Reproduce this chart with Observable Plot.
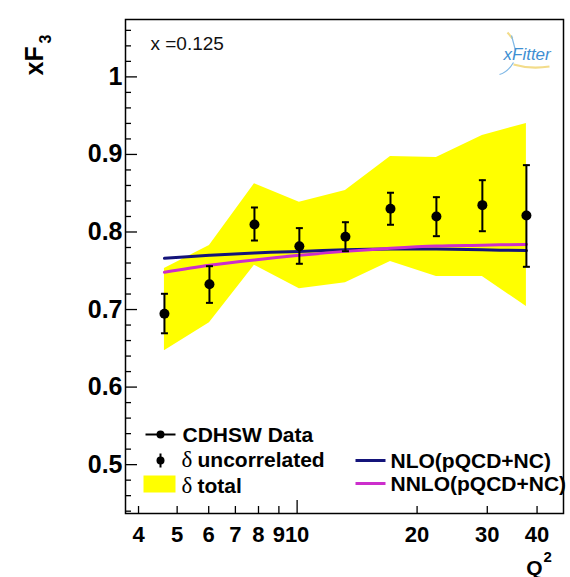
<!DOCTYPE html>
<html><head><meta charset="utf-8">
<script src="https://cdn.jsdelivr.net/npm/d3@7"></script>
<script src="https://cdn.jsdelivr.net/npm/@observablehq/plot@0.6"></script>
<style>html,body{margin:0;padding:0;background:#fff;} #chart svg{display:block}</style>
</head><body><div id="chart"></div>
<script>
// ---- data ----
const q2      = [4.646, 6.026, 7.815, 10.13, 13.22, 17.15, 22.36, 29.16, 37.61];
const xf3     = [0.6945, 0.7326, 0.8097, 0.7817, 0.7938, 0.8299, 0.8200, 0.8346, 0.8213];
const uncLo   = [0.6694, 0.7086, 0.7890, 0.7590, 0.7752, 0.8093, 0.7946, 0.8010, 0.7551];
const uncHi   = [0.7203, 0.7559, 0.8316, 0.8050, 0.8126, 0.8506, 0.8449, 0.8668, 0.8862];
const totLo   = [0.647, 0.683, 0.757, 0.7267, 0.7345, 0.762, 0.7426, 0.7426, 0.7039];
const totHi   = [0.753, 0.7826, 0.8622, 0.8385, 0.8535, 0.8974, 0.896, 0.9245, 0.940];
const nloVals = [0.766, 0.770, 0.773, 0.775, 0.777, 0.778, 0.778, 0.777, 0.776];
const nnloVals= [0.748, 0.757, 0.764, 0.770, 0.775, 0.779, 0.782, 0.783, 0.784];

const xLabelTicks = [4, 5, 6, 7, 8, 9, 10, 20, 30, 40];
const xMajorTicks = [10];
const xMinorTicks = [4, 5, 6, 7, 8, 9, 20, 30, 40];
const yMajorTicks = [0.5, 0.6, 0.7, 0.8, 0.9, 1.0];
const yMinorTicks = d3.range(22, 54).map(i => i / 50).filter(v => Math.abs(v * 10 - Math.round(v * 10)) > 1e-6);

const legendLeft  = ["CDHSW Data", "uncorrelated", "total"];
const legendRight = ["NLO(pQCD+NC)", "NNLO(pQCD+NC)"];
const colNLO = "#14147a", colNNLO = "#cc2ecc", colBand = "#ffff00";

const rows = q2.map((q, i) => ({q, v: xf3[i], lo: uncLo[i], hi: uncHi[i], tlo: totLo[i], thi: totHi[i], nlo: nloVals[i], nnlo: nnloVals[i]}));

// ---- geometry ----
const W = 570, H = 577, mL = 125, mR = 7, mT = 19, mB = 64;
const fw = W - mL - mR, fh = H - mT - mB;

const cap = {draw(ctx) { ctx.moveTo(-3.5, 0); ctx.lineTo(3.5, 0); }};
const seg = {draw(ctx) { ctx.moveTo(-15, 0); ctx.lineTo(15, 0); }};
const vseg = {draw(ctx) { ctx.moveTo(0, -7); ctx.lineTo(0, 7); }};
const box = {draw(ctx) { ctx.rect(-16, -8.5, 32, 17); }};
// small decorative swooshes of the xFitter logo (relative to the logo anchor)
const logoBlue = {draw(ctx) { ctx.moveTo(-6, 14); ctx.quadraticCurveTo(2, 12, 8, 2); ctx.moveTo(6, -25); ctx.lineTo(10, -10); }};
const logoYellow = {draw(ctx) { ctx.moveTo(8, 4); ctx.quadraticCurveTo(25, 9, 44, 6); ctx.moveTo(2, -28); ctx.lineTo(7, -22); }};
const TL = {frameAnchor: "top-left"};
const bold = {fontWeight: "bold", fill: "black"};
const serif = "'Liberation Serif', 'DejaVu Serif', serif";

const chart = Plot.plot({
  width: W, height: H,
  marginLeft: mL, marginRight: mR, marginTop: mT, marginBottom: mB,
  style: {fontFamily: "'Liberation Sans', Arial, Helvetica, sans-serif", background: "white", overflow: "visible"},
  x: {type: "log", domain: [3.71, 46.6], axis: null},
  y: {domain: [0.437, 1.074], axis: null},
  marks: [
    Plot.areaY(rows, {x: "q", y1: "tlo", y2: "thi", fill: colBand}),
    Plot.line(rows, {x: "q", y: "nlo", stroke: colNLO, strokeWidth: 3, curve: "catmull-rom"}),
    Plot.line(rows, {x: "q", y: "nnlo", stroke: colNNLO, strokeWidth: 3, curve: "catmull-rom"}),
    Plot.ruleX(rows, {x: "q", y1: "lo", y2: "hi", stroke: "black", strokeWidth: 2}),
    Plot.dot(rows, {x: "q", y: "lo", symbol: cap, stroke: "black", strokeWidth: 2, fill: "none"}),
    Plot.dot(rows, {x: "q", y: "hi", symbol: cap, stroke: "black", strokeWidth: 2, fill: "none"}),
    Plot.dot(rows, {x: "q", y: "v", r: 5, fill: "black", stroke: "none"}),
    // ticks (inside the frame)
    Plot.tickY(yMajorTicks, {y: d => d, insetRight: fw - 12, stroke: "black", strokeWidth: 1.3}),
    Plot.tickY(yMinorTicks, {y: d => d, insetRight: fw - 6, stroke: "black", strokeWidth: 1.3}),
    Plot.tickX(xMajorTicks, {x: d => d, insetTop: fh - 13, stroke: "black", strokeWidth: 1.3}),
    Plot.tickX(xMinorTicks, {x: d => d, insetTop: fh - 7, stroke: "black", strokeWidth: 1.3}),
    Plot.frame({stroke: "black", strokeWidth: 1.5}),
    Plot.text(yMajorTicks, {y: d => d, text: d => String(+d.toFixed(1)), frameAnchor: "left", textAnchor: "end", lineAnchor: "middle", fontSize: 25, ...bold, dx: -3}),
    Plot.text(xLabelTicks, {x: d => d, text: d => String(d), frameAnchor: "bottom", lineAnchor: "bottom", textAnchor: "middle", fontSize: 22, ...bold, dy: 541 - 513}),
    // axis titles
    Plot.text(["xF"], {...TL, ...bold, text: d => d, rotate: -90, textAnchor: "start", lineAnchor: "bottom", fontSize: 25, dx: 42 - mL, dy: 75 - mT}),
    Plot.text(["3"], {...TL, ...bold, text: d => d, rotate: -90, textAnchor: "start", lineAnchor: "bottom", fontSize: 16, dx: 50 - mL, dy: 43 - mT}),
    Plot.text(["Q"], {frameAnchor: "bottom-right", ...bold, text: d => d, textAnchor: "end", lineAnchor: "bottom", fontSize: 21, dx: 542 - 563, dy: 574 - 513}),
    Plot.text(["2"], {frameAnchor: "bottom-right", ...bold, text: d => d, textAnchor: "start", lineAnchor: "bottom", fontSize: 15, dx: 543 - 563, dy: 561 - 513}),
    // annotation + logo
    Plot.text(["x =0.125"], {...TL, text: d => d, textAnchor: "start", lineAnchor: "bottom", fontSize: 19, fill: "#111", dx: 150 - mL, dy: 49 - mT}),
    Plot.dot([0], {...TL, symbol: logoYellow, stroke: "#f3dc8a", strokeWidth: 2, fill: "none", dx: 505 - mL, dy: 60 - mT}),
    Plot.dot([0], {...TL, symbol: logoBlue, stroke: "#7fb8e6", strokeWidth: 1.2, fill: "none", dx: 505 - mL, dy: 60 - mT}),
    Plot.text(["xFitter"], {...TL, text: d => d, textAnchor: "start", lineAnchor: "bottom", fontSize: 17, fontStyle: "italic", fill: "#3f8fd2", dx: 503 - mL, dy: 59 - mT}),
    // legend (left)
    Plot.dot([0], {...TL, symbol: seg, stroke: "black", strokeWidth: 2, fill: "none", dx: 160 - mL, dy: 434 - mT}),
    Plot.dot([0], {...TL, r: 4, fill: "black", stroke: "none", dx: 160 - mL, dy: 434 - mT}),
    Plot.dot([0], {...TL, symbol: vseg, stroke: "black", strokeWidth: 2, fill: "none", dx: 160 - mL, dy: 460 - mT}),
    Plot.dot([0], {...TL, r: 4, fill: "black", stroke: "none", dx: 160 - mL, dy: 460 - mT}),
    Plot.dot([0], {...TL, symbol: box, fill: colBand, stroke: "none", dx: 159 - mL, dy: 483.5 - mT}),
    Plot.text([legendLeft[0]], {...TL, ...bold, text: d => d, textAnchor: "start", lineAnchor: "bottom", fontSize: 21, dx: 182 - mL, dy: 441 - mT}),
    Plot.text(["δ"], {...TL, text: d => d, textAnchor: "start", lineAnchor: "bottom", fontSize: 23, fill: "black", fontFamily: serif, dx: 181 - mL, dy: 466 - mT}),
    Plot.text(["δ"], {...TL, text: d => d, textAnchor: "start", lineAnchor: "bottom", fontSize: 23, fill: "black", fontFamily: serif, dx: 181 - mL, dy: 492 - mT}),
    Plot.text([legendLeft[1]], {...TL, ...bold, text: d => d, textAnchor: "start", lineAnchor: "bottom", fontSize: 21, dx: 197 - mL, dy: 466 - mT}),
    Plot.text([legendLeft[2]], {...TL, ...bold, text: d => d, textAnchor: "start", lineAnchor: "bottom", fontSize: 21, dx: 197 - mL, dy: 492 - mT}),
    // legend (right)
    Plot.dot([0], {...TL, symbol: seg, stroke: colNLO, strokeWidth: 3, fill: "none", dx: 370 - mL, dy: 460 - mT}),
    Plot.dot([0], {...TL, symbol: seg, stroke: colNNLO, strokeWidth: 3, fill: "none", dx: 370 - mL, dy: 483 - mT}),
    Plot.text([legendRight[0]], {...TL, ...bold, text: d => d, textAnchor: "start", lineAnchor: "bottom", fontSize: 21, dx: 390 - mL, dy: 467 - mT}),
    Plot.text([legendRight[1]], {...TL, ...bold, text: d => d, textAnchor: "start", lineAnchor: "bottom", fontSize: 21, dx: 390 - mL, dy: 490 - mT})
  ]
});
document.getElementById("chart").append(chart);
</script>
</body></html>
